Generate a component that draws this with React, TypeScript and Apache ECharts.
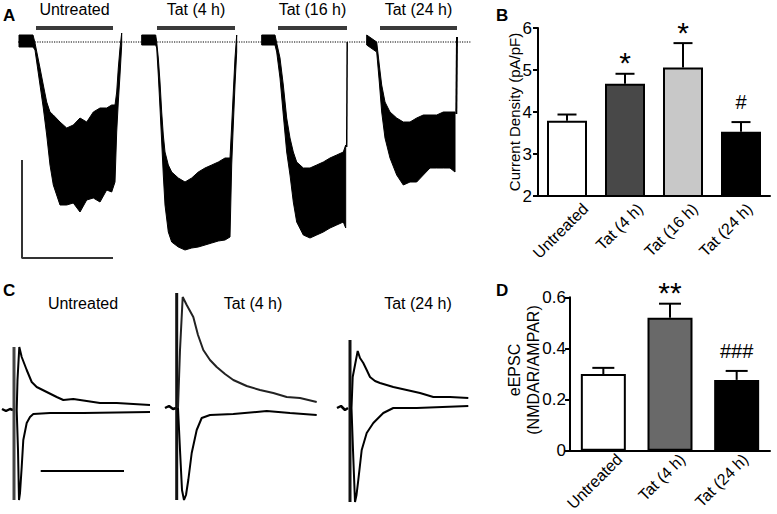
import React, { useEffect, useRef } from 'react';
import * as echarts from 'echarts';

const FONT = '"Liberation Sans", Arial, Helvetica, sans-serif';

// ---------- Panel A : whole-cell currents (time, current; arbitrary units) ----------
const traceTitlesA = ['Untreated', 'Tat (4 h)', 'Tat (16 h)', 'Tat (24 h)'];
const tatWindowsA = [[36, 113], [157, 235], [278, 347], [380, 457]];
const windowLevelA = 14;
// [time, upper edge of noisy band, lower edge of noisy band]
const envUntreated = [
  [19, 7, -5], [33, 7, -5], [35, -1, -8], [40, -26, -43], [43.3, -43, -66], [46.7, -60, -93],
  [50, -70, -123], [53.3, -73, -143], [60, -80, -163], [66.7, -86, -163], [73.3, -83, -161],
  [80, -76, -170], [86.7, -80, -158], [93.3, -70, -156], [100, -66, -160], [106.7, -66, -148],
  [111.7, -63, -150], [115, -63, -140], [116.7, -50, -90], [118.3, -26, -60], [120, -6, -33],
  [121.7, 9, -3],
];
const envTat4 = [
  [141.7, 7, -3], [155.7, 7, -3], [156.7, 0, -6], [158.3, -16, -33], [160, -40, -66],
  [161.7, -70, -100], [163.3, -93, -133], [165, -110, -163], [168.3, -123, -190],
  [171.7, -130, -200], [178.3, -136, -205], [185, -140, -208], [191.7, -136, -206],
  [198.3, -130, -205], [205, -126, -203], [211.7, -123, -201], [218.3, -120, -199],
  [225, -116, -198], [230, -116, -195], [231.7, -83, -123], [233.3, -50, -83],
  [235, -16, -43], [236.7, 7, -10],
];
const envTat16 = [
  [261.7, 7, -3], [275, 7, -3], [276.7, -1, -10], [280, -16, -36], [283.3, -43, -73],
  [286.7, -76, -110], [290, -96, -133], [293.3, -110, -160], [296.7, -120, -180],
  [303.3, -126, -193], [310, -126, -196], [316.7, -123, -193], [323.3, -120, -190],
  [330, -116, -186], [336.7, -113, -183], [343.3, -110, -180], [345.7, -103, -186],
];
const envTat24 = [
  [366.7, 7, -3], [376.7, 0, -10], [379.3, -23, -40], [381.7, -43, -70], [385, -60, -96],
  [390, -70, -116], [396.7, -76, -133], [403.3, -80, -143], [410, -80, -140],
  [416.7, -76, -140], [423.3, -73, -133], [430, -73, -126], [436.7, -73, -126],
  [443.3, -70, -126], [450, -70, -126], [455, -70, -130],
];
const riseTat16 = [[346.7, -105], [347.2, 0]];
const riseTat24 = [[456.3, -72], [457, 5]];
const baselineA = [[18, 0], [471, 0]];
const scaleBarA = [[22, -118], [22, -216], [113, -216]];

// ---------- Panel C : evoked EPSCs ----------
const titlesC = ['Untreated', 'Tat (4 h)', 'Tat (24 h)'];
const preC_untr = [[2, 1], [6, -1], [10, 1], [13, 0]];
const artC_untr = [[14, 63], [14, -90]];
const upC_untr = [
  [16.7, 0], [17.5, 30], [19.3, 63], [21.7, 53], [26.7, 40], [31.7, 28], [36.7, 23],
  [46.7, 18], [56.7, 13], [63.3, 10], [73.3, 11], [86.7, 9], [100, 7], [116.7, 7],
  [133.3, 6], [150, 5],
];
const loC_untr = [
  [16.7, 0], [18, -40], [19, -90], [20, -83], [21.7, -57], [23.3, -30], [26.7, -13],
  [30, -7], [33.3, -4], [50, -3], [83.3, -3], [150, -2],
];
const preC_tat4 = [[165, 2], [169, 4], [173, 1], [176, 2]];
const artC_tat4 = [[176.7, 117], [176.7, -90]];
const upC_tat4 = [
  [178, 2], [180, 60], [182.7, 113], [186.7, 105], [193.3, 93], [198, 75], [203.3, 60],
  [210, 50], [216.7, 43], [225, 36], [233.3, 30], [246.7, 24], [260, 20], [273.3, 17],
  [286.7, 13], [300, 12], [316.7, 8],
];
const loC_tat4 = [
  [178, 2], [180, -40], [182, -80], [184, -90], [186, -85], [188.3, -70], [191.7, -43],
  [196.7, -20], [201.7, -8], [210, -5], [233.3, -4], [266.7, -1], [290, -3], [316.7, -5],
];
const preC_tat24 = [[337, 2], [341, 4], [345, 0], [348, 2]];
const artC_tat24 = [[350, 70], [350, -92]];
const upC_tat24 = [
  [351.5, 2], [352.7, 33], [355, 45], [357.7, 59], [360, 52], [363.3, 47], [366.7, 40],
  [370, 33], [375, 29], [380, 27], [393.3, 23], [406.7, 20], [420, 17], [433.3, 13],
  [450, 13], [468.3, 12],
];
const loC_tat24 = [
  [351.5, 2], [353, -40], [355, -92], [356.5, -85], [358.3, -70], [361.7, -40],
  [366.7, -23], [373.3, -13], [383.3, -3], [393.3, 2], [416.7, 2], [468.3, 4],
];
const scaleBarC = [[40.7, -61], [124, -61]];

// ---------- Panel B ----------
const catsB = ['Untreated', 'Tat (4 h)', 'Tat (16 h)', 'Tat (24 h)'];
const densityMean = [3.79, 4.67, 5.06, 3.53];
const densitySem = [0.15, 0.24, 0.58, 0.23];
const densitySig = ['', '*', '*', '#'];
const colorsB = ['#ffffff', '#484848', '#c8c8c8', '#000000'];

// ---------- Panel D ----------
const catsD = ['Untreated', 'Tat (4 h)', 'Tat (24 h)'];
const ratioMean = [0.3, 0.52, 0.277];
const ratioSem = [0.024, 0.055, 0.035];
const ratioSig = ['', '**', '###'];
const colorsD = ['#ffffff', '#696969', '#000000'];
const ratioTitleLines = ['eEPSC', '(NMDAR/AMPAR)'];

function envelopeSeries(env: number[][]) {
  return {
    type: 'custom', xAxisIndex: 0, yAxisIndex: 0, data: env, silent: true, clip: false, z: 3,
    renderItem: (params: any, api: any) => {
      if (params.dataIndex !== 0) return null;
      const top = env.map((p) => api.coord([p[0], p[1]]));
      const bot = env.slice().reverse().map((p) => api.coord([p[0], p[2]]));
      return {
        type: 'polygon',
        shape: { points: top.concat(bot) },
        style: { fill: '#000', stroke: '#000', lineWidth: 1 },
      };
    },
  };
}

function lineSeries(data: number[][], grid: number, color = '#000', width = 1.5, type = 'solid') {
  return {
    type: 'line', xAxisIndex: grid, yAxisIndex: grid, data, symbol: 'none', silent: true,
    clip: false, animation: false, z: 4,
    lineStyle: { color, width, type },
  };
}

function errorSeries(means: number[], sems: number[], sig: string[], axis: number, cap: number,
  sigSizes: number[]) {
  return {
    type: 'custom', xAxisIndex: axis, yAxisIndex: axis, silent: true, clip: false, z: 5,
    data: means.map((m, i) => [i, m, sems[i]]),
    renderItem: (params: any, api: any) => {
      const i = params.dataIndex;
      const c = api.value(0);
      const m = api.value(1);
      const e = api.value(2);
      const p0 = api.coord([c, m]);
      const p1 = api.coord([c, m + e]);
      const s = sig[i];
      const isStar = s.indexOf('*') >= 0;
      const children: any[] = [
        { type: 'line', shape: { x1: p0[0], y1: p0[1], x2: p1[0], y2: p1[1] }, style: { stroke: '#000', lineWidth: 2 } },
        { type: 'line', shape: { x1: p1[0] - cap / 2, y1: p1[1], x2: p1[0] + cap / 2, y2: p1[1] }, style: { stroke: '#000', lineWidth: 2 } },
      ];
      if (s) {
        children.push({
          type: 'text', x: p1[0], y: p1[1] - (isStar ? 11 : 20),
          style: {
            text: s, fill: '#000', fontFamily: FONT,
            fontSize: isStar ? sigSizes[0] : sigSizes[1],
            align: 'center', verticalAlign: 'middle',
          },
        });
      }
      return { type: 'group', children };
    },
  };
}

export default function App() {
  const ref = useRef<HTMLDivElement>(null);
  useEffect(() => {
    if (!ref.current) return;
    const chart = echarts.init(ref.current, null, { renderer: 'svg' });
    const hiddenVal = (min: number, max: number, gridIndex: number) => ({
      type: 'value', gridIndex, min, max, show: false,
    });
    const option: any = {
      animation: false,
      backgroundColor: '#ffffff',
      textStyle: { fontFamily: FONT },
      grid: [
        { left: 0, top: 2, width: 480, height: 280 },
        { left: 0, top: 290, width: 480, height: 220 },
        { left: 538, top: 28, width: 232, height: 168 },
        { left: 558, top: 28, width: 232, height: 168 },
        { left: 570, top: 297.3, width: 200, height: 153.4 },
        { left: 588, top: 297.3, width: 200, height: 153.4 },
      ],
      xAxis: [
        hiddenVal(0, 480, 0),
        hiddenVal(0, 480, 1),
        {
          type: 'category', gridIndex: 2, data: catsB,
          axisLine: { show: true, lineStyle: { color: '#000', width: 2 } },
          axisTick: { show: false }, axisLabel: { show: false },
        },
        {
          type: 'category', gridIndex: 3, data: catsB,
          axisLine: { show: false }, axisTick: { show: false },
          axisLabel: { interval: 0, rotate: 45, margin: 10, fontSize: 16, color: '#000', fontFamily: FONT },
        },
        {
          type: 'category', gridIndex: 4, data: catsD,
          axisLine: { show: true, lineStyle: { color: '#000', width: 2 } },
          axisTick: { show: false }, axisLabel: { show: false },
        },
        {
          type: 'category', gridIndex: 5, data: catsD,
          axisLine: { show: false }, axisTick: { show: false },
          axisLabel: { interval: 0, rotate: 45, margin: 10, fontSize: 16, color: '#000', fontFamily: FONT },
        },
      ],
      yAxis: [
        hiddenVal(-240, 40, 0),
        hiddenVal(-100, 120, 1),
        {
          type: 'value', gridIndex: 2, min: 2, max: 6, interval: 1,
          axisLine: { show: true, lineStyle: { color: '#000', width: 2 } },
          axisTick: { show: true, length: 5, lineStyle: { color: '#000', width: 2 } },
          splitLine: { show: false },
          axisLabel: { fontSize: 17, color: '#000', margin: 6, fontFamily: FONT },
          name: 'Current Density (pA/pF)', nameLocation: 'middle', nameGap: 16, nameMoveOverlap: false,
          nameTextStyle: { fontSize: 15, color: '#000', fontFamily: FONT },
        },
        hiddenVal(2, 6, 3),
        {
          type: 'value', gridIndex: 4, min: 0, max: 0.6, interval: 0.2,
          axisLine: { show: true, lineStyle: { color: '#000', width: 2 } },
          axisTick: { show: true, length: 5, lineStyle: { color: '#000', width: 2 } },
          splitLine: { show: false },
          axisLabel: { fontSize: 17, color: '#000', margin: 4, fontFamily: FONT },
        },
        hiddenVal(0, 0.6, 5),
      ],
      graphic: [
        { type: 'text', x: 3, y: 7, style: { text: 'A', fontSize: 17, fontWeight: 'bold', fontFamily: FONT, fill: '#000' } },
        { type: 'text', x: 496, y: 7, style: { text: 'B', fontSize: 17, fontWeight: 'bold', fontFamily: FONT, fill: '#000' } },
        { type: 'text', x: 3, y: 282, style: { text: 'C', fontSize: 17, fontWeight: 'bold', fontFamily: FONT, fill: '#000' } },
        { type: 'text', x: 496, y: 282, style: { text: 'D', fontSize: 17, fontWeight: 'bold', fontFamily: FONT, fill: '#000' } },
        ...titlesC.map((t, i) => ({
          type: 'text', x: [83, 253, 418][i], y: 303,
          style: { text: t, fontSize: 16, fontFamily: FONT, fill: '#000', align: 'center', verticalAlign: 'middle' },
        })),
        ...ratioTitleLines.map((t, i) => ({
          type: 'text', x: [514, 533][i], y: 370, rotation: Math.PI / 2,
          style: { text: t, fontSize: 16, fontFamily: FONT, fill: '#000', align: 'center', verticalAlign: 'middle' },
        })),
      ],
      series: [
        // Panel A
        envelopeSeries(envUntreated),
        envelopeSeries(envTat4),
        envelopeSeries(envTat16),
        envelopeSeries(envTat24),
        lineSeries(riseTat16, 0, '#000', 1.5),
        lineSeries(riseTat24, 0, '#000', 2),
        lineSeries(baselineA, 0, '#000', 1.2, 'dotted'),
        lineSeries(scaleBarA, 0, '#333', 2),
        {
          type: 'custom', xAxisIndex: 0, yAxisIndex: 0, data: tatWindowsA, silent: true, clip: false, z: 5,
          renderItem: (params: any, api: any) => {
            const a = api.coord([api.value(0), windowLevelA]);
            const b = api.coord([api.value(1), windowLevelA]);
            return {
              type: 'group',
              children: [
                { type: 'line', shape: { x1: a[0], y1: a[1], x2: b[0], y2: b[1] }, style: { stroke: '#3a3a3a', lineWidth: 4 } },
                {
                  type: 'text', x: (a[0] + b[0]) / 2, y: a[1] - 19,
                  style: { text: traceTitlesA[params.dataIndex], fontSize: 16, fontFamily: FONT, fill: '#000', align: 'center', verticalAlign: 'middle' },
                },
              ],
            };
          },
        },
        // Panel C
        lineSeries(preC_untr, 1, '#000', 2.5),
        lineSeries(artC_untr, 1, '#444', 3),
        lineSeries(upC_untr, 1, '#000', 2),
        lineSeries(loC_untr, 1, '#000', 2),
        lineSeries(preC_tat4, 1, '#000', 2.5),
        lineSeries(artC_tat4, 1, '#111', 3),
        lineSeries(upC_tat4, 1, '#222', 2),
        lineSeries(loC_tat4, 1, '#000', 2),
        lineSeries(preC_tat24, 1, '#000', 2.5),
        lineSeries(artC_tat24, 1, '#111', 3),
        lineSeries(upC_tat24, 1, '#000', 2),
        lineSeries(loC_tat24, 1, '#000', 2),
        lineSeries(scaleBarC, 1, '#000', 2),
        // Panel B
        {
          type: 'bar', xAxisIndex: 2, yAxisIndex: 2, barWidth: 40, silent: true, z: 2,
          data: densityMean.map((v, i) => ({ value: v, itemStyle: { color: colorsB[i] } })),
          itemStyle: { borderColor: '#000', borderWidth: 2 },
        },
        errorSeries(densityMean, densitySem, densitySig, 2, 19, [30, 20]),
        // Panel D
        {
          type: 'bar', xAxisIndex: 4, yAxisIndex: 4, barWidth: 45, silent: true, z: 2,
          data: ratioMean.map((v, i) => ({ value: v, itemStyle: { color: colorsD[i] } })),
          itemStyle: { borderColor: '#000', borderWidth: 2 },
        },
        errorSeries(ratioMean, ratioSem, ratioSig, 4, 22, [30, 20]),
      ],
    };
    chart.setOption(option);
    return () => chart.dispose();
  }, []);
  return (
    <div
      ref={ref}
      style={{ position: 'absolute', left: 0, top: 0, width: 777, height: 514, background: '#fff' }}
    />
  );
}
